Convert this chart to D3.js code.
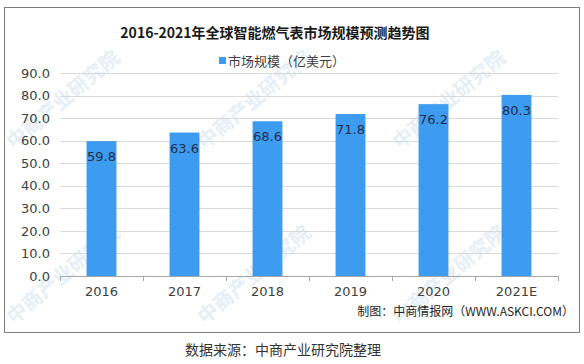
<!DOCTYPE html>
<html>
<head>
<meta charset="utf-8">
<script src="https://d3js.org/d3.v7.min.js"></script>
<style>
  body { margin: 0; background: #fff; }
  svg { display: block; }
</style>
</head>
<body>
<div id="chart"></div>
<script>
// chart data
const years = ['2016', '2017', '2018', '2019', '2020', '2021E'];
const marketSize = [59.8, 63.6, 68.6, 71.8, 76.2, 80.3];
const yTicks = [0, 10, 20, 30, 40, 50, 60, 70, 80, 90];

const title = '2016-2021年全球智能燃气表市场规模预测趋势图';
const legendLabel = '市场规模（亿美元）';
const credit = '制图：中商情报网（WWW.ASKCI.COM）';
const source = '数据来源：中商产业研究院整理';
const watermark = '中商产业研究院';

const width = 584, height = 364;
const margin = {top: 73, right: 26, bottom: 88, left: 60};
const cjk = '"Noto Sans CJK SC", "Noto Sans", sans-serif';
const num = '"DejaVu Sans", "Noto Sans", sans-serif';

const svg = d3.select('#chart').append('svg')
    .attr('width', width)
    .attr('height', height);

// faint watermarks (kept inside the frame)
const wm = svg.append('g').attr('fill', '#e6eef6').attr('font-family', cjk)
    .attr('font-size', 20).attr('font-weight', 'bold');
[[14, 150], [205, 150], [400, 150], [14, 325], [205, 325], [400, 325]].forEach(p => {
  wm.append('text')
      .attr('transform', 'translate(' + p[0] + ',' + p[1] + ') rotate(-40)')
      .text(watermark);
});

// outer frame
svg.append('rect')
    .attr('x', 4.5).attr('y', 7.5)
    .attr('width', 575).attr('height', 325)
    .attr('fill', 'none')
    .attr('stroke', '#7f7f7f')
    .attr('stroke-width', 1);

const x = d3.scaleBand()
    .domain(years)
    .range([margin.left, width - margin.right])
    .paddingInner(0.64)
    .paddingOuter(0.32);

const y = d3.scaleLinear()
    .domain([0, 90])
    .range([height - margin.bottom, margin.top]);

// gridlines
svg.append('g')
    .selectAll('line')
    .data(yTicks.slice(1))
    .join('line')
    .attr('x1', margin.left)
    .attr('x2', width - margin.right)
    .attr('y1', d => Math.round(y(d)) + 0.5)
    .attr('y2', d => Math.round(y(d)) + 0.5)
    .attr('stroke', '#d9d9d9');

// y axis labels
const yAxis = d3.axisLeft(y)
    .tickValues(yTicks)
    .tickFormat(d3.format('.1f'))
    .tickSize(0)
    .tickPadding(10);

svg.append('g')
    .attr('transform', 'translate(' + margin.left + ',0)')
    .call(yAxis)
    .call(g => g.select('.domain').remove())
    .call(g => g.selectAll('text')
        .attr('fill', '#404040')
        .attr('font-family', num)
        .attr('font-size', 13));

// bars
svg.append('g')
    .selectAll('rect')
    .data(marketSize)
    .join('rect')
    .attr('x', (d, i) => x(years[i]))
    .attr('y', d => y(d))
    .attr('width', x.bandwidth())
    .attr('height', d => y(0) - y(d))
    .attr('fill', '#3d9bf0');

// value labels
svg.append('g')
    .selectAll('text')
    .data(marketSize)
    .join('text')
    .attr('x', (d, i) => x(years[i]) + x.bandwidth() / 2)
    .attr('y', d => y(d) + 20)
    .attr('text-anchor', 'middle')
    .attr('fill', '#1f2d4d')
    .attr('font-family', num)
    .attr('font-size', 13)
    .text(d => d.toFixed(1));

// x axis
const xAxis = d3.axisBottom(x).tickSize(0).tickPadding(11);
const xg = svg.append('g')
    .attr('transform', 'translate(0,' + (y(0)) + ')')
    .call(xAxis);
xg.select('.domain').attr('stroke', '#a6a6a6');
xg.selectAll('text')
    .attr('fill', '#404040')
    .attr('font-family', num)
    .attr('font-size', 13);

// category separator ticks
const step = x.step();
xg.append('g')
    .selectAll('line')
    .data(d3.range(years.length + 1))
    .join('line')
    .attr('x1', i => Math.round(margin.left + i * step) + 0.5)
    .attr('x2', i => Math.round(margin.left + i * step) + 0.5)
    .attr('y1', 0)
    .attr('y2', 5)
    .attr('stroke', '#a6a6a6');

// title
svg.append('text')
    .attr('x', 275)
    .attr('y', 38)
    .attr('text-anchor', 'middle')
    .attr('font-family', cjk)
    .attr('font-weight', 'bold')
    .attr('font-size', 14)
    .attr('fill', '#1a1a1a')
    .text(title);

// legend
svg.append('rect')
    .attr('x', 219).attr('y', 57)
    .attr('width', 7).attr('height', 7)
    .attr('fill', '#3d9bf0');
svg.append('text')
    .attr('x', 228)
    .attr('y', 66)
    .attr('font-family', cjk)
    .attr('font-size', 13)
    .attr('fill', '#404040')
    .text(legendLabel);

// credit
svg.append('text')
    .attr('x', 574)
    .attr('y', 316)
    .attr('text-anchor', 'end')
    .attr('font-family', cjk)
    .attr('font-size', 12)
    .attr('fill', '#262626')
    .text(credit);

// source
svg.append('text')
    .attr('x', 185)
    .attr('y', 355)
    .attr('font-family', cjk)
    .attr('font-size', 14)
    .attr('fill', '#333')
    .text(source);
</script>
</body>
</html>
